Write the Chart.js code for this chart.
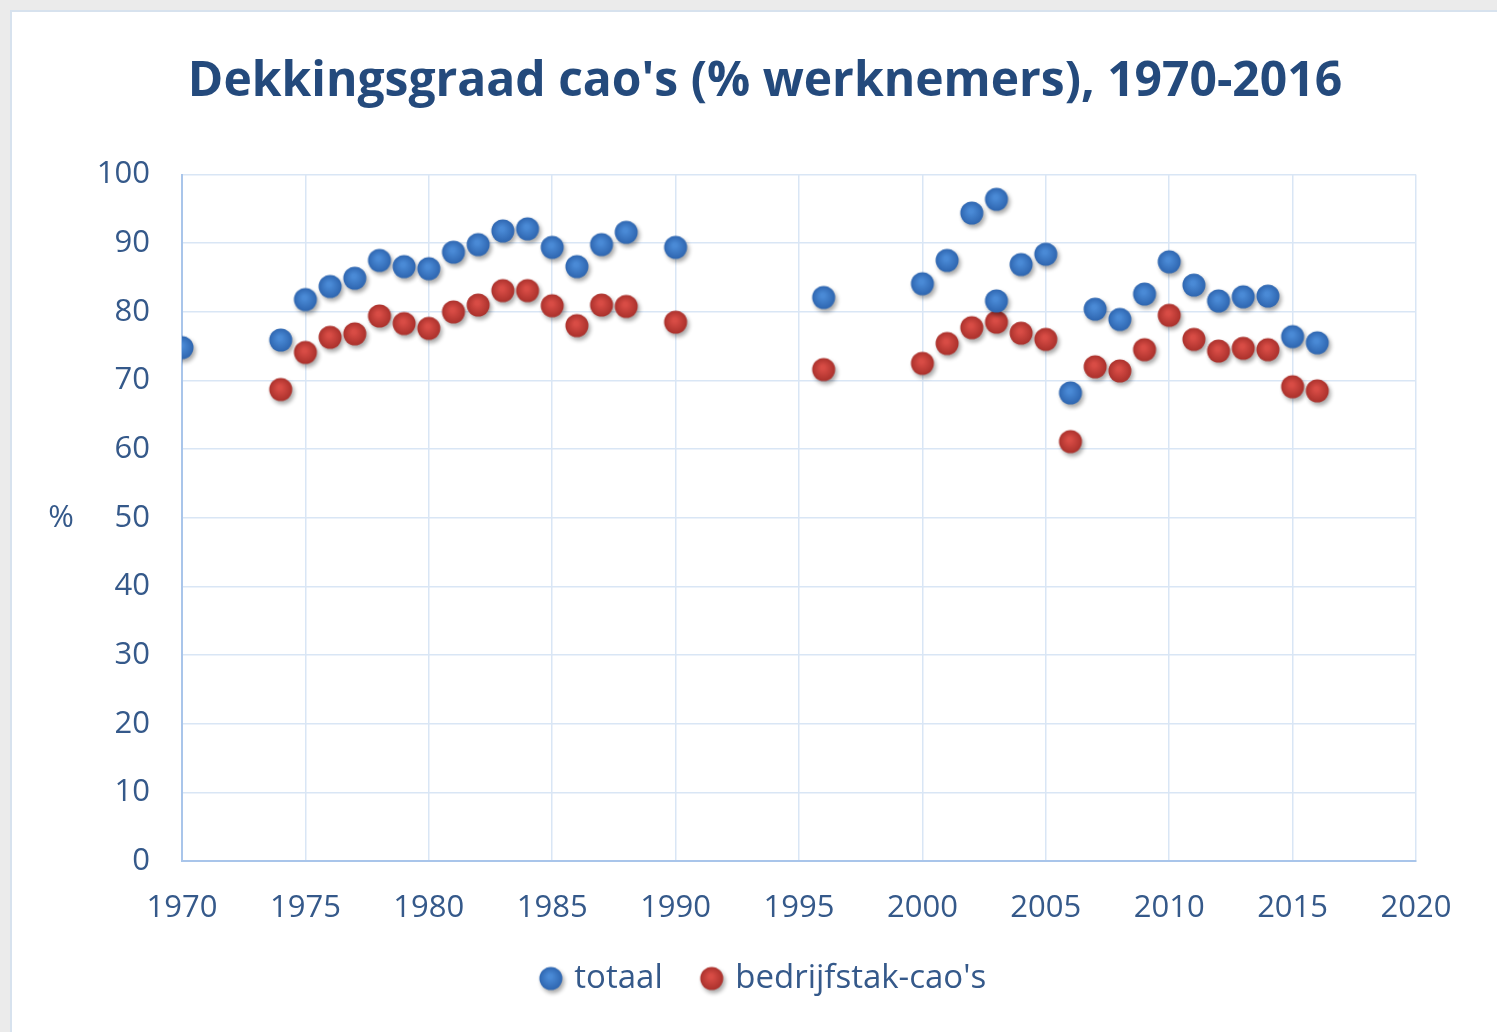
<!DOCTYPE html>
<html>
<head>
<meta charset="utf-8">
<title>Dekkingsgraad cao's</title>
<script src="https://cdn.jsdelivr.net/npm/chart.js@4/dist/chart.umd.min.js"></script>
<style>
    html, body { margin: 0; padding: 0; background: #ebebeb; overflow: hidden; }
    #frame {
        position: absolute; left: 10px; top: 10px;
        width: 1495px; height: 1030px;
        background: #ffffff; overflow: hidden;
        border-left: 2px solid #d7e2ee; border-top: 2px solid #d7e2ee;
    }
    #chartBox { position: absolute; left: 0; top: 0; width: 1485px; height: 1020px; }
</style>
</head>
<body>
<div id="frame"><div id="chartBox"><canvas id="chart"></canvas></div></div>
<script>
"use strict";

const TITLE = "Dekkingsgraad cao's (% werknemers), 1970-2016";
const SERIES_NAMES = ["totaal", "bedrijfstak-cao's"];

const totaalYears = [1970, 1974, 1975, 1976, 1977, 1978, 1979, 1980, 1981, 1982, 1983, 1984, 1985, 1986, 1987, 1988, 1990,
    1996, 2000, 2001, 2002, 2003, 2003, 2004, 2005, 2006, 2007, 2008, 2009, 2010, 2011, 2012, 2013, 2014, 2015, 2016];
const totaalValues = [74.8, 75.9, 81.8, 83.7, 84.9, 87.5, 86.6, 86.3, 88.7, 89.8, 91.8, 92.1, 89.4, 86.6, 89.8, 91.6, 89.4,
    82.1, 84.1, 87.5, 94.4, 96.4, 81.6, 86.9, 88.4, 68.2, 80.4, 78.9, 82.6, 87.3, 83.9, 81.6, 82.2, 82.3, 76.4, 75.5];

const bedrijfstakYears = [1974, 1975, 1976, 1977, 1978, 1979, 1980, 1981, 1982, 1983, 1984, 1985, 1986, 1987, 1988, 1990,
    1996, 2000, 2001, 2002, 2003, 2004, 2005, 2006, 2007, 2008, 2009, 2010, 2011, 2012, 2013, 2014, 2015, 2016];
const bedrijfstakValues = [68.7, 74.1, 76.3, 76.8, 79.4, 78.3, 77.6, 80.0, 81.0, 83.1, 83.1, 80.9, 78.0, 81.0, 80.8, 78.5,
    71.6, 72.5, 75.4, 77.7, 78.5, 76.9, 76.0, 61.1, 72.0, 71.4, 74.5, 79.5, 76.0, 74.3, 74.7, 74.5, 69.1, 68.5];

const xTicks = [1970, 1975, 1980, 1985, 1990, 1995, 2000, 2005, 2010, 2015, 2020];
const yTicks = [0, 10, 20, 30, 40, 50, 60, 70, 80, 90, 100];

const TEXT_COLOR = "#35598a";
const TITLE_COLOR = "#244a7c";
const GRID_COLOR = "#d9e6f5";
const AXIS_COLOR = "#a9c5ea";
const FONT = "'Open Sans', 'Liberation Sans', sans-serif";

// glossy marker with a soft shadow, drawn once and used as point style
function makeMarker(light, dark) {
    const c = document.createElement("canvas");
    c.width = 40;
    c.height = 40;
    const ctx = c.getContext("2d");
    const grad = ctx.createRadialGradient(19, 18, 2, 20, 20, 12);
    grad.addColorStop(0, light);
    grad.addColorStop(1, dark);
    ctx.shadowColor = "rgba(0,0,0,0.35)";
    ctx.shadowBlur = 4;
    ctx.shadowOffsetX = 2;
    ctx.shadowOffsetY = 3;
    ctx.beginPath();
    ctx.arc(20, 20, 11.5, 0, Math.PI * 2);
    ctx.fillStyle = grad;
    ctx.fill();
    return c;
}

const blueMarker = makeMarker("#4a8ad6", "#2d64ae");
const redMarker = makeMarker("#d84c45", "#a8302b");

function toPoints(years, values) {
    return years.map((y, i) => ({ x: y, y: values[i] }));
}

// the "%" label sits level to the left of the y axis, not rotated
const percentLabel = {
    id: "percentLabel",
    afterDraw(chart) {
        const ctx = chart.ctx;
        const area = chart.chartArea;
        ctx.save();
        ctx.font = "31px " + FONT;
        ctx.fillStyle = TEXT_COLOR;
        ctx.textAlign = "center";
        ctx.textBaseline = "middle";
        ctx.fillText("%", 49, (area.top + area.bottom) / 2);
        ctx.restore();
    }
};

// title and legend are centred a bit right of the canvas middle in the original
const centreBlocks = {
    id: "centreBlocks",
    afterLayout(chart) {
        if (chart.titleBlock) chart.titleBlock.left = 102;
        if (chart.legend) chart.legend.left = 102;
    }
};

new Chart(document.getElementById("chart"), {
    type: "scatter",
    data: {
        datasets: [
            {
                label: SERIES_NAMES[0],
                data: toPoints(totaalYears, totaalValues),
                pointStyle: blueMarker,
                backgroundColor: "#3a78c6",
                borderColor: "#3a78c6"
            },
            {
                label: SERIES_NAMES[1],
                data: toPoints(bedrijfstakYears, bedrijfstakValues),
                pointStyle: redMarker,
                backgroundColor: "#c63d37",
                borderColor: "#c63d37"
            }
        ]
    },
    options: {
        responsive: true,
        maintainAspectRatio: false,
        animation: false,
        events: [],
        layout: { padding: { left: 0, right: 81, top: 0, bottom: 27 } },
        plugins: {
            title: {
                display: true,
                text: TITLE,
                color: TITLE_COLOR,
                font: { family: FONT, size: 48, weight: "bold" },
                padding: { top: 42, bottom: 63 }
            },
            legend: {
                display: true,
                position: "bottom",
                labels: {
                    usePointStyle: true,
                    pointStyleWidth: 14,
                    color: TEXT_COLOR,
                    font: { family: FONT, size: 33 },
                    padding: 42
                }
            },
            tooltip: { enabled: false }
        },
        scales: {
            x: {
                type: "linear",
                min: 1970,
                max: 2020,
                afterBuildTicks: scale => { scale.ticks = xTicks.map(v => ({ value: v })); },
                afterFit: scale => { scale.height = 59; },
                ticks: {
                    color: TEXT_COLOR,
                    font: { family: FONT, size: 31 },
                    padding: 29,
                    maxRotation: 0,
                    callback: v => String(v)
                },
                grid: { color: GRID_COLOR, lineWidth: 1.5, drawTicks: false },
                border: { color: AXIS_COLOR, width: 2 }
            },
            y: {
                min: 0,
                max: 100,
                afterBuildTicks: scale => { scale.ticks = yTicks.map(v => ({ value: v })); },
                afterFit: scale => { scale.width = 170; },
                ticks: {
                    color: TEXT_COLOR,
                    font: { family: FONT, size: 31 },
                    padding: 32
                },
                grid: { color: GRID_COLOR, lineWidth: 1.5, drawTicks: false },
                border: { color: AXIS_COLOR, width: 2 }
            }
        }
    },
    plugins: [percentLabel, centreBlocks]
});
</script>
</body>
</html>
